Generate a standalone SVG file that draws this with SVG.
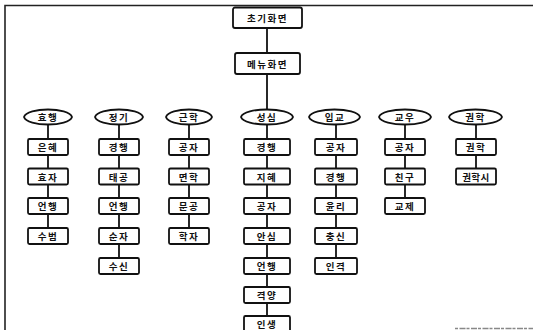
<svg xmlns="http://www.w3.org/2000/svg" width="533" height="330" viewBox="0 0 533 330">
  <style>
    .frame { fill: none; stroke: #222; stroke-width: 1.6; }
    .edge { fill: none; stroke: #111; stroke-width: 1.8; }
    .box { fill: #fff; stroke: #111; stroke-width: 1.8; }
    .cat { fill: #fff; stroke: #111; stroke-width: 1.8; }
    .lbl { font-family: "Noto Sans CJK KR", "Noto Sans", sans-serif; font-size: 9.5px; font-weight: 700; fill: #111; text-anchor: middle; dominant-baseline: central; letter-spacing: 1.5px; }
  </style>
  <rect width="533" height="330" fill="#fff"/>

  <!-- page frame -->
  <g id="frame">
    <path class="frame" d="M5,330 V5.5 H533"/>
    <path d="M455,328.5 H533" stroke="#888" stroke-width="1.5" stroke-dasharray="3 1.5 6 1"/>
  </g>

  <!-- connectors -->
  <g id="connectors">
    <line class="edge" x1="267" y1="28" x2="267" y2="53"/>
    <line class="edge" x1="267" y1="74" x2="267" y2="110"/>
    <line class="edge" x1="48" y1="124" x2="48" y2="228"/>
    <line class="edge" x1="119" y1="124" x2="119" y2="258"/>
    <line class="edge" x1="189" y1="124" x2="189" y2="228"/>
    <line class="edge" x1="267" y1="124" x2="267" y2="316"/>
    <line class="edge" x1="336" y1="124" x2="336" y2="258"/>
    <line class="edge" x1="405" y1="124" x2="405" y2="198"/>
    <line class="edge" x1="476" y1="124" x2="476" y2="168"/>
  </g>

  <!-- top screens -->
  <g id="n-start">
    <rect class="box" x="233" y="7.5" width="69" height="20.5" rx="2"/>
    <text class="lbl" x="267.5" y="18">초기화면</text>
  </g>
  <g id="n-menu">
    <rect class="box" x="235" y="53" width="65" height="21" rx="2"/>
    <text class="lbl" x="267.5" y="63.5">메뉴화면</text>
  </g>

  <!-- categories (pointed ovals) -->
  <g id="c-hyohaeng">
    <path class="cat" d="M24,117 C27,107 69,107 72,117 C69,127 27,127 24,117 Z"/>
    <text class="lbl" x="48" y="117">효행</text>
  </g>
  <g id="c-jeonggi">
    <path class="cat" d="M95,117 C98,107 140,107 143,117 C140,127 98,127 95,117 Z"/>
    <text class="lbl" x="119" y="117">정기</text>
  </g>
  <g id="c-geunhak">
    <path class="cat" d="M166,117 C169,107 209,107 212,117 C209,127 169,127 166,117 Z"/>
    <text class="lbl" x="189" y="117">근학</text>
  </g>
  <g id="c-seongsim">
    <path class="cat" d="M241,117 C244,107 290,107 293,117 C290,127 244,127 241,117 Z"/>
    <text class="lbl" x="267" y="117">성심</text>
  </g>
  <g id="c-ipgyo">
    <path class="cat" d="M309,117 C312,107 357,107 360,117 C357,127 312,127 309,117 Z"/>
    <text class="lbl" x="335" y="117">입교</text>
  </g>
  <g id="c-gyou">
    <path class="cat" d="M379,117 C382,107 428,107 431,117 C428,127 382,127 379,117 Z"/>
    <text class="lbl" x="405" y="117">교우</text>
  </g>
  <g id="c-gwonhak">
    <path class="cat" d="M449,117 C452,107 499,107 502,117 C499,127 452,127 449,117 Z"/>
    <text class="lbl" x="475.5" y="117">권학</text>
  </g>

  <!-- 효행 items -->
  <g id="n-hy1"><rect class="box" x="28" y="139" width="40" height="16" rx="1.5"/><text class="lbl" x="48" y="147">은혜</text></g>
  <g id="n-hy2"><rect class="box" x="28" y="168.5" width="40" height="16" rx="1.5"/><text class="lbl" x="48" y="176.5">효자</text></g>
  <g id="n-hy3"><rect class="box" x="28" y="198" width="40" height="16" rx="1.5"/><text class="lbl" x="48" y="206">언행</text></g>
  <g id="n-hy4"><rect class="box" x="28" y="228" width="40" height="16" rx="1.5"/><text class="lbl" x="48" y="236">수범</text></g>

  <!-- 정기 items -->
  <g id="n-jg1"><rect class="box" x="99" y="139" width="40" height="16" rx="1.5"/><text class="lbl" x="119" y="147">경행</text></g>
  <g id="n-jg2"><rect class="box" x="99" y="168.5" width="40" height="16" rx="1.5"/><text class="lbl" x="119" y="176.5">태공</text></g>
  <g id="n-jg3"><rect class="box" x="99" y="198" width="40" height="16" rx="1.5"/><text class="lbl" x="119" y="206">언행</text></g>
  <g id="n-jg4"><rect class="box" x="99" y="228" width="40" height="16" rx="1.5"/><text class="lbl" x="119" y="236">순자</text></g>
  <g id="n-jg5"><rect class="box" x="99" y="258" width="40" height="16" rx="1.5"/><text class="lbl" x="119" y="266">수신</text></g>

  <!-- 근학 items -->
  <g id="n-gh1"><rect class="box" x="169" y="139" width="40" height="16" rx="1.5"/><text class="lbl" x="189" y="147">공자</text></g>
  <g id="n-gh2"><rect class="box" x="169" y="168.5" width="40" height="16" rx="1.5"/><text class="lbl" x="189" y="176.5">면학</text></g>
  <g id="n-gh3"><rect class="box" x="169" y="198" width="40" height="16" rx="1.5"/><text class="lbl" x="189" y="206">문공</text></g>
  <g id="n-gh4"><rect class="box" x="169" y="228" width="40" height="16" rx="1.5"/><text class="lbl" x="189" y="236">학자</text></g>

  <!-- 성심 items -->
  <g id="n-ss1"><rect class="box" x="244" y="139" width="46" height="16" rx="1.5"/><text class="lbl" x="267" y="147">경행</text></g>
  <g id="n-ss2"><rect class="box" x="244" y="168.5" width="46" height="16" rx="1.5"/><text class="lbl" x="267" y="176.5">지혜</text></g>
  <g id="n-ss3"><rect class="box" x="244" y="198" width="46" height="16" rx="1.5"/><text class="lbl" x="267" y="206">공자</text></g>
  <g id="n-ss4"><rect class="box" x="244" y="228" width="46" height="16" rx="1.5"/><text class="lbl" x="267" y="236">안심</text></g>
  <g id="n-ss5"><rect class="box" x="244" y="258" width="46" height="16" rx="1.5"/><text class="lbl" x="267" y="266">언행</text></g>
  <g id="n-ss6"><rect class="box" x="244" y="287" width="46" height="16" rx="1.5"/><text class="lbl" x="267" y="295">격양</text></g>
  <g id="n-ss7"><rect class="box" x="244" y="316" width="46" height="16" rx="1.5"/><text class="lbl" x="267" y="324">인생</text></g>

  <!-- 입교 items -->
  <g id="n-ig1"><rect class="box" x="315" y="139" width="42" height="16" rx="1.5"/><text class="lbl" x="336" y="147">공자</text></g>
  <g id="n-ig2"><rect class="box" x="315" y="168.5" width="42" height="16" rx="1.5"/><text class="lbl" x="336" y="176.5">경행</text></g>
  <g id="n-ig3"><rect class="box" x="315" y="198" width="42" height="16" rx="1.5"/><text class="lbl" x="336" y="206">윤리</text></g>
  <g id="n-ig4"><rect class="box" x="315" y="228" width="42" height="16" rx="1.5"/><text class="lbl" x="336" y="236">충신</text></g>
  <g id="n-ig5"><rect class="box" x="315" y="258" width="42" height="16" rx="1.5"/><text class="lbl" x="336" y="266">인격</text></g>

  <!-- 교우 items -->
  <g id="n-gu1"><rect class="box" x="385" y="139" width="40" height="16" rx="1.5"/><text class="lbl" x="405" y="147">공자</text></g>
  <g id="n-gu2"><rect class="box" x="385" y="168.5" width="40" height="16" rx="1.5"/><text class="lbl" x="405" y="176.5">친구</text></g>
  <g id="n-gu3"><rect class="box" x="385" y="198" width="40" height="16" rx="1.5"/><text class="lbl" x="405" y="206">교제</text></g>

  <!-- 권학 items -->
  <g id="n-gw1"><rect class="box" x="456" y="139" width="40" height="16" rx="1.5"/><text class="lbl" x="476" y="147">권학</text></g>
  <g id="n-gw2"><rect class="box" x="456" y="168.5" width="40" height="16" rx="1.5"/><text class="lbl" x="476" y="176.5" style="letter-spacing:0.5px">권학시</text></g>
</svg>
